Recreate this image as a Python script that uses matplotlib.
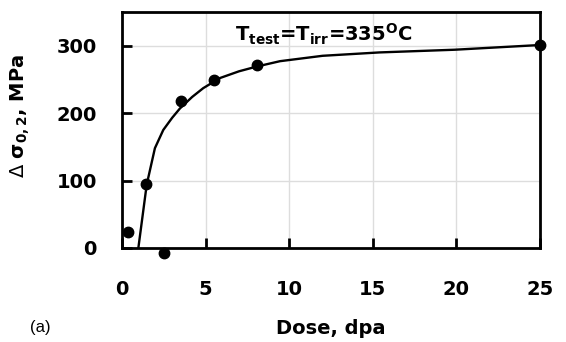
import numpy as np
import matplotlib as mpl
import matplotlib.pyplot as plt

mpl.rcParams['font.family'] = 'DejaVu Sans'
mpl.rcParams['mathtext.fontset'] = 'dejavusans'

# measured points
dose = [0.35, 1.45, 2.5, 3.55, 5.5, 8.05, 25.0]
d_sigma = [24, 95, -8, 218, 249, 272, 301]

# fitted curve
fit_dose = [0.98, 1.48, 1.97, 2.47, 3.0, 3.47, 4.2, 4.86, 5.86, 7.0, 8.05, 9.45, 12.0, 15.4, 19.9, 25.0]
fit_sigma = [0, 94, 148, 175, 193, 207, 224, 237, 252, 262, 269, 277, 285, 290, 294, 301]

xticks = [0, 5, 10, 15, 20, 25]
yticks = [0, 100, 200, 300]

fig = plt.figure(figsize=(5.66, 3.42), dpi=100)
fig.set_facecolor('white')
ax = fig.add_axes([0.2155, 0.275, 0.7385, 0.69])

ax.plot(fit_dose, fit_sigma, color='black', lw=1.7, zorder=3)
ax.plot(dose, d_sigma, 'o', color='black', ms=7.5, clip_on=False, zorder=4)

ax.set_xlim(0, 25)
ax.set_ylim(0, 350)
ax.set_xticks(xticks)
ax.set_yticks(yticks)
ax.grid(color='#dddddd', lw=1, zorder=0)
ax.set_axisbelow(True)

for s in ax.spines.values():
    s.set_linewidth(2)
ax.tick_params(axis='both', direction='in', length=7, width=2, labelsize=14)
ax.tick_params(axis='x', pad=23)
ax.tick_params(axis='y', pad=18)
for lab in ax.get_xticklabels() + ax.get_yticklabels():
    lab.set_fontweight('bold')

ax.set_xlabel('Dose, dpa', fontsize=14, fontweight='bold')
ax.xaxis.label.set_va('center')
ax.xaxis.set_label_coords(0.5, -0.34)
ax.set_ylabel(r'$\Delta\ \mathbf{\sigma_{0,2}}$, MPa', fontsize=14, fontweight='bold')
ax.yaxis.set_label_coords(-0.215, 0.56)

ax.text(0.27, 0.905, r'$\mathbf{T_{test}}$=$\mathbf{T_{irr}}$=335$\mathbf{^{O}}$C',
        transform=ax.transAxes, fontsize=14, fontweight='bold', va='center')

fig.text(0.053, 0.043, '(a)', fontsize=12, family='Liberation Sans', va='center')

plt.savefig('out.png', dpi=100)
